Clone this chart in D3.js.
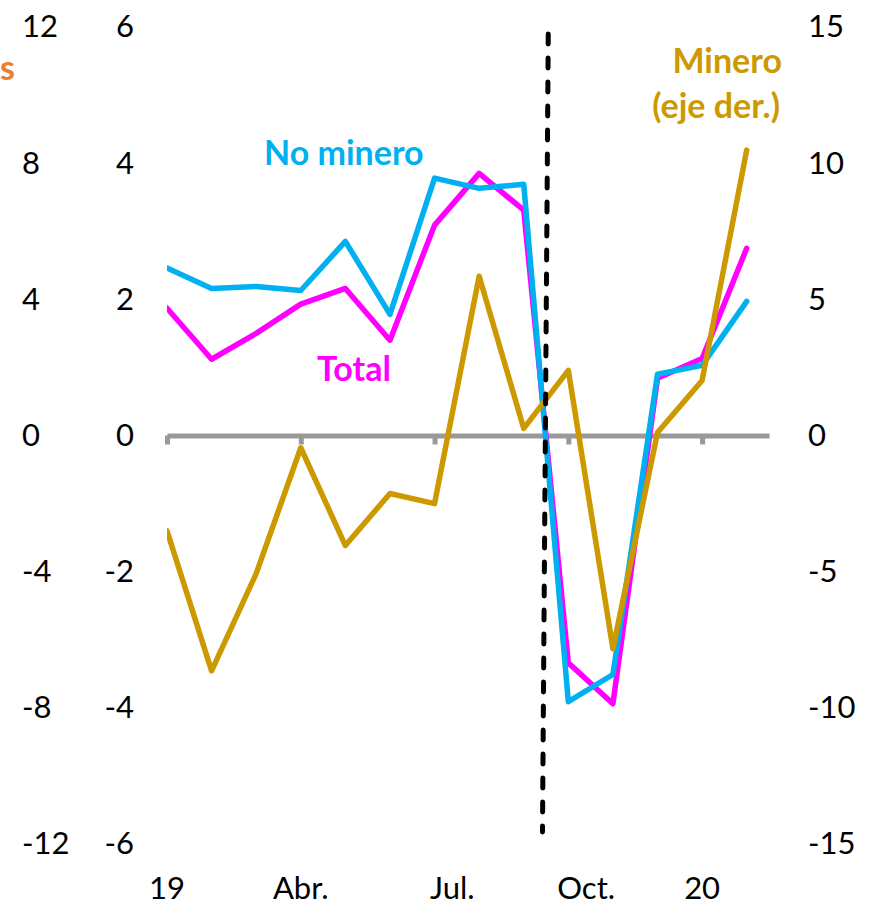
<!DOCTYPE html>
<html lang="es">
<head>
<meta charset="utf-8">
<script src="https://d3js.org/d3.v7.min.js"></script>
<style type="text/css">
body {
    margin: 0;
    background: #fff;
}
svg text {
    font-family: Lato, "Open Sans", sans-serif;
}
.tick text {
    font-size: 31px;
    fill: #000;
}
.lbl {
    font-size: 34px;
    font-weight: bold;
}
</style>
</head>
<body>
<div id="chart"></div>
<script type="text/javascript">

// months from Jan 2019 (0) to Feb 2020 (13)
var months = [0, 1, 2, 3, 4, 5, 6, 7, 8, 9, 10, 11, 12, 13];

// left axis (%)
var total    = [1.87, 1.12, 1.50, 1.93, 2.16, 1.40, 3.09, 3.85, 3.31, -3.34, -3.94, 0.84, 1.13, 2.75];
var noMinero = [2.46, 2.16, 2.19, 2.13, 2.85, 1.78, 3.78, 3.63, 3.69, -3.91, -3.51, 0.90, 1.03, 1.97];
// right axis (%)
var minero   = [-3.5, -8.64, -5.07, -0.45, -4.04, -2.13, -2.5, 5.85, 0.26, 2.39, -7.83, 0.11, 2.02, 10.48];

var farTicks   = [-12, -8, -4, 0, 4, 8, 12];
var leftTicks  = [-6, -4, -2, 0, 2, 4, 6];
var rightTicks = [-15, -10, -5, 0, 5, 10, 15];

var xTickMonths = [0, 3, 6, 9, 12];
var xLabels     = ["19", "Abr.", "Jul.", "Oct.", "20"];
var xLabelPos   = [0, 3, 6.4, 9.4, 12];

var breakMonth = 8.5;   // dashed line between Sep and Oct

var width = 876, height = 907;

var x = d3.scaleLinear().domain([0, 13.5]).range([167, 769]);
var yLeft  = d3.scaleLinear().domain([-6, 6]).range([844, 27]);
var yRight = d3.scaleLinear().domain([-15, 15]).range([844, 27]);
var yFar   = d3.scaleLinear().domain([-12, 12]).range([844, 27]);

// plain hyphen for negatives, as in the original
var fmt = function(d) { return String(d); };

var svg = d3.select("#chart")
    .append("svg")
    .attr("width", width)
    .attr("height", height);

svg.append("defs").append("clipPath")
    .attr("id", "plot")
    .append("rect")
    .attr("x", x(0)).attr("y", 0)
    .attr("width", width - x(0)).attr("height", height);

// y axes (labels only)
svg.append("g")
    .attr("transform", "translate(22,0)")
    .call(d3.axisRight(yFar).tickValues(farTicks).tickFormat(fmt).tickSize(0).tickPadding(0))
    .call(function(g) { g.select(".domain").remove(); });

svg.append("g")
    .attr("transform", "translate(134,0)")
    .call(d3.axisLeft(yLeft).tickValues(leftTicks).tickFormat(fmt).tickSize(0).tickPadding(0))
    .call(function(g) { g.select(".domain").remove(); });

svg.append("g")
    .attr("transform", "translate(808,0)")
    .call(d3.axisRight(yRight).tickValues(rightTicks).tickFormat(fmt).tickSize(0).tickPadding(0))
    .call(function(g) { g.select(".domain").remove(); });

svg.selectAll(".tick text").attr("font-family", "Lato, sans-serif").attr("font-size", 31);

// zero line with ticks
var xAxis = svg.append("g")
    .attr("transform", "translate(0," + yLeft(0) + ")")
    .call(d3.axisBottom(x).tickValues(xTickMonths).tickSize(9).tickSizeOuter(0).tickFormat(""));
xAxis.select(".domain").attr("stroke", "#999").attr("stroke-width", 5);
xAxis.selectAll(".tick line").attr("stroke", "#999").attr("stroke-width", 5);

// month labels
svg.selectAll(".mlabel")
    .data(xLabels)
    .enter()
    .append("text")
    .attr("class", "mlabel")
    .attr("x", function(d, i) { return x(xLabelPos[i]); })
    .attr("y", 899)
    .attr("text-anchor", "middle")
    .attr("font-size", 31)
    .text(function(d) { return d; });

// lines
var plot = svg.append("g").attr("clip-path", "url(#plot)");

function drawLine(values, yScale, colour) {
    var line = d3.line()
        .x(function(d, i) { return x(months[i]); })
        .y(function(d) { return yScale(d); });
    plot.append("path")
        .datum(values)
        .attr("d", line)
        .attr("fill", "none")
        .attr("stroke", colour)
        .attr("stroke-width", 5.5)
        .attr("stroke-linejoin", "round")
        .attr("stroke-linecap", "round");
}

drawLine(total, yLeft, "#FF00FF");
drawLine(noMinero, yLeft, "#00B0F0");
drawLine(minero, yRight, "#CC9900");

// dashed break line
svg.append("line")
    .attr("x1", x(breakMonth + 0.05)).attr("y1", 34)
    .attr("x2", x(breakMonth - 0.08)).attr("y2", 832)
    .attr("stroke", "#000")
    .attr("stroke-width", 5)
    .attr("stroke-linecap", "round")
    .attr("stroke-dasharray", "10 14");

// series labels
svg.append("text").attr("class", "lbl")
    .attr("x", 264).attr("y", 165)
    .attr("fill", "#00B0F0")
    .text("No minero");

svg.append("text").attr("class", "lbl")
    .attr("x", 317).attr("y", 381)
    .attr("fill", "#FF00FF")
    .text("Total");

svg.append("text").attr("class", "lbl")
    .attr("x", 782).attr("y", 73)
    .attr("text-anchor", "end")
    .attr("fill", "#CC9900")
    .text("Minero");

svg.append("text").attr("class", "lbl")
    .attr("x", 780).attr("y", 118)
    .attr("text-anchor", "end")
    .attr("fill", "#CC9900")
    .text("(eje der.)");

// remnant of a title at the far left edge
svg.append("text")
    .attr("x", 0).attr("y", 80)
    .attr("font-size", 34)
    .attr("font-weight", "bold")
    .attr("fill", "#ED7D31")
    .text("s");

</script>
</body>
</html>
